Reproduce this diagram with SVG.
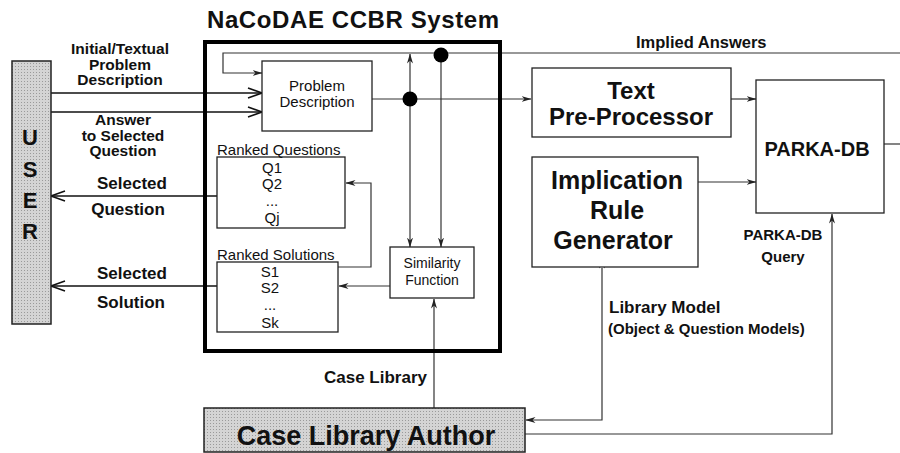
<svg xmlns="http://www.w3.org/2000/svg" width="900" height="453" viewBox="0 0 900 453">
<style>
  text { font-family: "Liberation Sans", Arial, sans-serif; fill: #111; }
  .b { font-weight: bold; }
  .box { fill: #fff; stroke: #222; stroke-width: 1.3; }
  .grey { stroke: #222; stroke-width: 1.5; }
  .ln { fill: none; stroke: #333; stroke-width: 1.2; }
  .lnk { fill: none; stroke: #111; stroke-width: 1.6; }
  .c { text-anchor: middle; }
  .lbl { font-weight: bold; font-size: 15.5px; text-anchor: middle; }
</style>
<defs>
  <pattern id="dots" width="3" height="3" patternUnits="userSpaceOnUse">
    <rect width="3" height="3" fill="#d4d4d4"/>
    <rect width="1" height="1" fill="#9a9a9a"/>
  </pattern>
  <marker id="open" viewBox="0 0 16 12" refX="15" refY="6" markerWidth="16" markerHeight="12" markerUnits="userSpaceOnUse" orient="auto">
    <path d="M1,1 L15,6 L1,11" fill="none" stroke="#111" stroke-width="1.5"/>
  </marker>
  <marker id="arr" viewBox="0 0 10 8" refX="9.5" refY="4" markerWidth="10" markerHeight="8" markerUnits="userSpaceOnUse" orient="auto">
    <path d="M0,1 L10,4 L0,7 L3,4 Z" fill="#222"/>
  </marker>
  <marker id="arrs" viewBox="0 0 10 8" refX="0.5" refY="4" markerWidth="10" markerHeight="8" markerUnits="userSpaceOnUse" orient="auto-start-reverse">
    <path d="M0,1 L10,4 L0,7 L3,4 Z" fill="#222"/>
  </marker>
</defs>

<g id="connectors">
  <line class="lnk" x1="51" y1="93" x2="262" y2="93" marker-end="url(#open)"/>
  <line class="lnk" x1="51" y1="112" x2="262" y2="112" marker-end="url(#open)"/>
  <line class="lnk" x1="217" y1="196" x2="51" y2="196" marker-end="url(#open)"/>
  <line class="lnk" x1="217" y1="286" x2="51" y2="286" marker-end="url(#open)"/>
  <path class="ln" d="M900,53 H223 V73 H262" marker-end="url(#arr)"/>
  <line class="ln" x1="441" y1="55" x2="441" y2="247" marker-end="url(#arr)"/>
  <line class="ln" x1="372" y1="99" x2="531" y2="99" marker-end="url(#arr)"/>
  <line class="ln" x1="410" y1="99" x2="410" y2="54" marker-end="url(#arr)"/>
  <line class="ln" x1="410" y1="99" x2="410" y2="247" marker-end="url(#arr)"/>
  <line class="ln" x1="390" y1="286" x2="339" y2="286" marker-end="url(#arr)"/>
  <path class="ln" d="M338,267 H371 V183 H346" marker-end="url(#arr)"/>
  <line class="ln" x1="434" y1="408" x2="434" y2="299" marker-end="url(#arr)"/>
  <line class="ln" x1="731" y1="99" x2="756" y2="99" marker-end="url(#arr)"/>
  <line class="ln" x1="698" y1="182" x2="756" y2="182" marker-end="url(#arr)"/>
  <line class="ln" x1="884" y1="144" x2="900" y2="144"/>
  <path class="ln" d="M602,268 V420 H526" marker-start="url(#arrs)" marker-end="url(#arr)"/>
  <path class="ln" d="M525,434 H832 V214" marker-end="url(#arr)"/>
  <circle cx="441" cy="55" r="7.5" fill="#000"/>
  <circle cx="410" cy="99" r="7.5" fill="#000"/>
</g>

<g id="user">
  <rect class="grey" x="12" y="61" width="39" height="263" style="fill:url(#dots)"/>
  <text class="b c" x="30" y="145" font-size="22">U</text>
  <text class="b c" x="30" y="177" font-size="22">S</text>
  <text class="b c" x="30" y="208" font-size="22">E</text>
  <text class="b c" x="30" y="239" font-size="22">R</text>
</g>

<g id="nacodae">
  <rect x="205" y="42" width="295" height="309" fill="none" stroke="#000" stroke-width="4"/>
  <text class="b c" x="353" y="28" font-size="24" textLength="292">NaCoDAE CCBR System</text>
</g>

<g id="problem-description">
  <rect class="box" x="262" y="61" width="110" height="70"/>
  <text class="c" x="317" y="91" font-size="15">Problem</text>
  <text class="c" x="317" y="107" font-size="15">Description</text>
</g>

<g id="ranked-questions">
  <rect class="box" x="217" y="157" width="128" height="71"/>
  <text x="217" y="155" font-size="15">Ranked Questions</text>
  <text class="c" x="272" y="173" font-size="15">Q1</text>
  <text class="c" x="272" y="189" font-size="15">Q2</text>
  <text class="c" x="272" y="206" font-size="15">...</text>
  <text class="c" x="272" y="223" font-size="15">Qj</text>
</g>

<g id="ranked-solutions">
  <rect class="box" x="217" y="262" width="121" height="70"/>
  <text x="217" y="260" font-size="15">Ranked Solutions</text>
  <text class="c" x="270" y="277" font-size="15">S1</text>
  <text class="c" x="270" y="293" font-size="15">S2</text>
  <text class="c" x="270" y="310" font-size="15">...</text>
  <text class="c" x="270" y="328" font-size="15">Sk</text>
</g>

<g id="similarity-function">
  <rect class="box" x="390" y="247" width="84" height="51"/>
  <text class="c" x="432" y="268" font-size="14">Similarity</text>
  <text class="c" x="432" y="285" font-size="14">Function</text>
</g>

<g id="text-preprocessor">
  <rect class="box" x="532" y="68" width="199" height="69"/>
  <text class="b c" x="631" y="99" font-size="24">Text</text>
  <text class="b c" x="631" y="125" font-size="24">Pre-Processor</text>
</g>

<g id="implication-rule-generator">
  <rect class="box" x="532" y="157" width="166" height="110"/>
  <text class="b c" x="617" y="189" font-size="25">Implication</text>
  <text class="b c" x="617" y="219" font-size="25">Rule</text>
  <text class="b c" x="613" y="249" font-size="25">Generator</text>
</g>

<g id="parka-db">
  <rect class="box" x="756" y="80" width="128" height="133"/>
  <text class="b c" x="817" y="156" font-size="20">PARKA-DB</text>
</g>

<g id="case-library-author">
  <rect class="grey" x="204" y="408" width="321" height="44" style="fill:url(#dots)"/>
  <text class="b c" x="366" y="445" font-size="27">Case Library Author</text>
</g>

<g id="labels">
  <text class="lbl" x="120" y="54">Initial/Textual</text>
  <text class="lbl" x="120" y="69.5">Problem</text>
  <text class="lbl" x="120" y="85">Description</text>
  <text class="lbl" x="123" y="125">Answer</text>
  <text class="lbl" x="123" y="140.5">to Selected</text>
  <text class="lbl" x="123" y="156">Question</text>
  <text class="b c" x="132" y="189" font-size="17">Selected</text>
  <text class="b c" x="128" y="215" font-size="17">Question</text>
  <text class="b c" x="132" y="279" font-size="17">Selected</text>
  <text class="b c" x="131" y="308" font-size="17">Solution</text>
  <text class="b" x="636" y="48" font-size="16.5">Implied Answers</text>
  <text class="b c" x="783" y="240" font-size="15">PARKA-DB</text>
  <text class="b c" x="783" y="262" font-size="15">Query</text>
  <text class="b" x="609" y="313" font-size="17">Library Model</text>
  <text class="b" x="608" y="334" font-size="15">(Object &amp; Question Models)</text>
  <text class="b" x="427" y="383" font-size="17" text-anchor="end">Case Library</text>
</g>
</svg>
